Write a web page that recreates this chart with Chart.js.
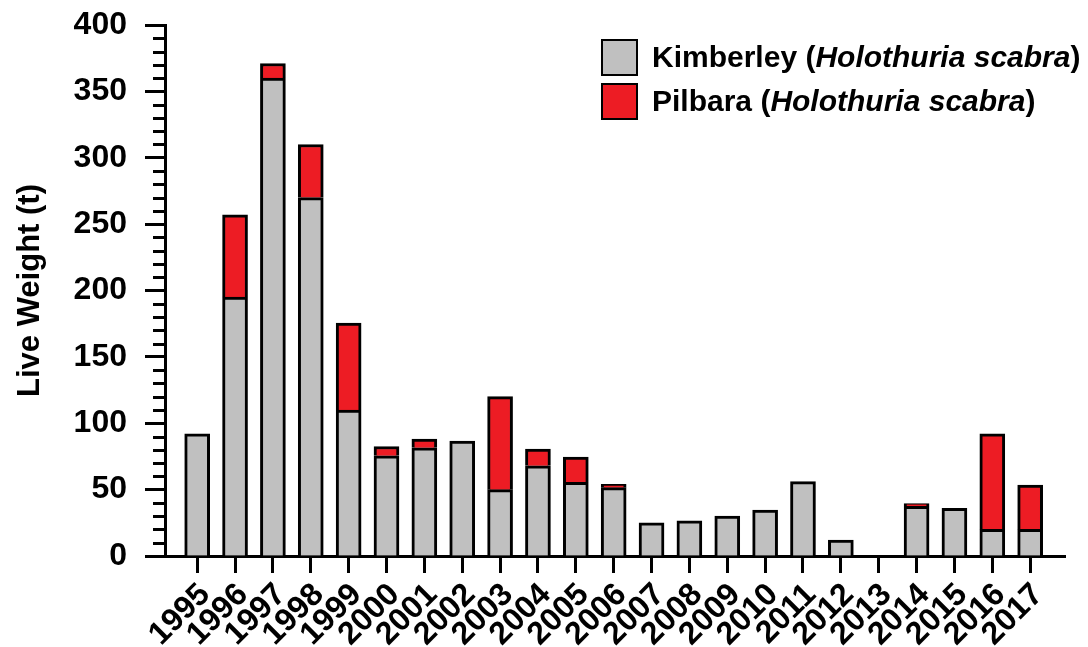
<!DOCTYPE html>
<html>
<head>
<meta charset="utf-8">
<script src="https://cdn.jsdelivr.net/npm/chart.js@4.4.1/dist/chart.umd.min.js"></script>
<style>
  body { margin: 0; background: #fff; }
  #wrap { position: relative; width: 1088px; height: 647px; }
  .legend { position: absolute; left: 601px; top: 35px; font: bold 30px "Liberation Sans", Arial, sans-serif; color: #000; }
  .legend-row { display: flex; align-items: center; height: 44px; white-space: nowrap; }
  .swatch { width: 33px; height: 33px; border: 2px solid #000; margin-right: 14px; flex: none; }
</style>
</head>
<body>
<div id="wrap">
  <canvas id="chart" width="1088" height="647"></canvas>
  <div class="legend">
    <div class="legend-row"><span class="swatch" style="background:#c0c0c0"></span>Kimberley (<i>Holothuria scabra</i>)</div>
    <div class="legend-row"><span class="swatch" style="background:#ed1c24"></span>Pilbara (<i>Holothuria scabra</i>)</div>
  </div>
</div>
<script>
const years = [1995, 1996, 1997, 1998, 1999, 2000, 2001, 2002, 2003, 2004, 2005, 2006,
               2007, 2008, 2009, 2010, 2011, 2012, 2013, 2014, 2015, 2016, 2017];
const kimberley = [92, 195, 360, 270, 110, 75.5, 81.5, 86.5, 50, 68, 55.5, 51.5,
                   25, 26.5, 30, 34.5, 56, 12, 0, 37.5, 36, 20, 20];
const pilbara = [0, 62, 11, 40, 65.5, 7, 6.5, 0, 70, 12.5, 19, 2.5,
                 0, 0, 0, 0, 0, 0, 0, 2, 0, 72, 33.5];

const FONT = '"Liberation Sans", Arial, sans-serif';

// short minor ticks every 10 t on the y axis
const minorTicks = {
    id: 'minorTicks',
    afterDraw(chart) {
        const y = chart.scales.y, ctx = chart.ctx, left = chart.chartArea.left;
        ctx.save();
        ctx.strokeStyle = '#000';
        ctx.lineWidth = 3;
        for (let v = 10; v < 400; v += 10) {
            if (v % 50 === 0) continue;
            const py = Math.round(y.getPixelForValue(v)) + 0.5;
            ctx.beginPath();
            ctx.moveTo(left - 12, py);
            ctx.lineTo(left, py);
            ctx.stroke();
        }
        ctx.restore();
    }
};

new Chart(document.getElementById('chart'), {
    type: 'bar',
    data: {
        datasets: [
            {
                label: 'Kimberley',
                data: years.map((yr, i) => ({ x: yr, y: kimberley[i] })),
                backgroundColor: '#c0c0c0',
                borderColor: '#000',
                borderWidth: 3,
                borderSkipped: 'start',
                barThickness: 25
            },
            {
                label: 'Pilbara',
                data: years.map((yr, i) => ({ x: yr, y: pilbara[i] })),
                backgroundColor: '#ed1c24',
                borderColor: '#000',
                borderWidth: 3,
                borderSkipped: 'start',
                barThickness: 25
            }
        ]
    },
    options: {
        responsive: false,
        animation: false,
        layout: { padding: { top: 25, right: 23, left: 0, bottom: 0 } },
        plugins: { legend: { display: false }, tooltip: { enabled: false } },
        scales: {
            x: {
                type: 'linear',
                min: 1994.15,
                max: 2017.92,
                offset: false,
                stacked: true,
                afterBuildTicks: s => { s.ticks = years.map(v => ({ value: v })); },
                afterFit: s => { s.height = 91; },
                grid: { offset: false, drawOnChartArea: false, tickLength: 17, tickWidth: 3, tickColor: '#000' },
                border: { color: '#000', width: 3 },
                ticks: {
                    autoSkip: false, minRotation: 45, maxRotation: 45, padding: 3, labelOffset: 8,
                    color: '#000', font: { family: FONT, size: 32, weight: 'bold' },
                    callback: v => String(v)
                }
            },
            y: {
                min: 0,
                max: 400,
                stacked: true,
                afterFit: s => { s.width = 165; s.paddingTop = 0; s.paddingBottom = 0; },
                grid: { drawOnChartArea: false, tickLength: 20, tickWidth: 3, tickColor: '#000' },
                border: { color: '#000', width: 3 },
                ticks: {
                    stepSize: 50, padding: 18, color: '#000',
                    font: { family: FONT, size: 32, weight: 'bold' }
                },
                title: {
                    display: true, text: 'Live Weight (t)', color: '#000',
                    font: { family: FONT, size: 31, weight: 'bold' },
                    padding: { top: 12, bottom: 0 }
                }
            }
        }
    },
    plugins: [minorTicks]
});
</script>
</body>
</html>
